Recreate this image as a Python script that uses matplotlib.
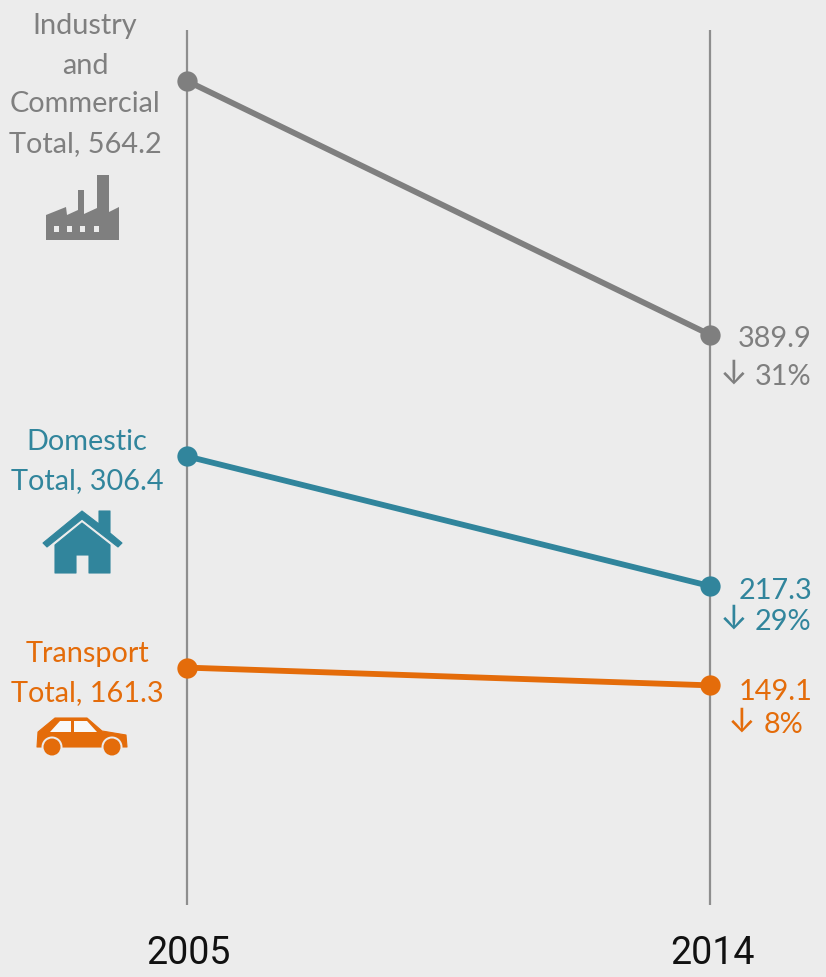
import matplotlib

matplotlib.use("Agg")
import matplotlib.pyplot as plt
from matplotlib.patches import Circle, Polygon, Rectangle

WIDTH, HEIGHT = 826, 978
BG = "#ECECEC"
GREY = "#7F7F7F"
TEAL = "#31859C"
ORANGE = "#E46C0A"
AXIS_GREY = "#8E8E8E"

years = ["2005", "2014"]
industry = [564.2, 389.9]
domestic = [306.4, 217.3]
transport = [161.3, 149.1]
series_colors = [GREY, TEAL, ORANGE]

left_labels = [
    ["Industry", "and", "Commercial", "Total, 564.2"],
    ["Domestic", "Total, 306.4"],
    ["Transport", "Total, 161.3"],
]
end_values = ["389.9", "217.3", "149.1"]
end_changes = ["31%", "29%", "8%"]

plt.rcParams["font.family"] = ["Lato", "Liberation Sans", "DejaVu Sans"]

fig = plt.figure(figsize=(WIDTH / 100, HEIGHT / 100), dpi=100, facecolor=BG)

# data axes fill the figure, limits chosen so 2005/2014 land on the two rules
ax = fig.add_axes([0, 0, 1, 1], facecolor=BG)
ax.set_xlim(-187 / 523, (WIDTH - 187) / 523)
ax.set_ylim(-51.2, 620.5)
ax.axis("off")

xs = range(len(years))
for x in xs:
    ax.plot([x, x], [-2, 599], color=AXIS_GREY, lw=1.6, zorder=1, solid_capstyle="butt")
for vals, col in zip([industry, domestic, transport], series_colors):
    ax.plot(xs, vals, color=col, lw=4.2, marker="o", ms=14.6, mew=0, zorder=3)

# overlay in image pixels for labels and icons
px = fig.add_axes([0, 0, 1, 1], facecolor="none")
px.set_xlim(0, WIDTH)
px.set_ylim(HEIGHT, 0)
px.axis("off")

FS = 20.8
left_rows = [[26, 66, 104, 144], [442, 481], [654, 693]]
left_cx = [85, 87, 87]
for lines, rows, cx, col in zip(left_labels, left_rows, left_cx, series_colors):
    for line, y in zip(lines, rows):
        px.text(cx, y, line, color=col, fontsize=FS, ha="center", va="center")

value_y = [339, 591, 692]
change_y = [377, 622, 725]
change_right = [811, 811, 803]
arrow_x = [734, 734, 742]
for i, col in enumerate(series_colors):
    px.text(812, value_y[i], end_values[i], color=col, fontsize=FS, ha="right", va="center")
    px.text(change_right[i], change_y[i], end_changes[i], color=col, fontsize=FS,
            ha="right", va="center")
    px.text(arrow_x[i], change_y[i] - 2, "↓", color=col, fontsize=24, family="Inter",
            ha="center", va="center")

for x, lab in zip([188, 713], years):
    px.text(x, 953, lab, color="#111111", fontsize=27, family="Roboto", ha="center", va="center")

# factory icon
px.add_patch(Polygon([(46, 241), (46, 216), (66, 208), (67, 216), (78, 211), (78, 191),
                      (84, 191), (84, 215), (97, 209), (97, 176), (109, 176), (109, 213),
                      (119, 208), (119, 241)], closed=True, fc=GREY, ec="none"))
for wx in [53.5, 67, 80, 93.5]:
    px.add_patch(Rectangle((wx, 227), 5, 6, fc=BG, ec="none"))

# house icon, thin round outline softens the corners
px.add_patch(Polygon([(43, 544), (82, 512), (99, 525), (99, 512), (110, 512), (110, 534),
                      (122, 544), (118, 548), (82, 520), (47, 548)], closed=True, fc=TEAL,
                     ec=TEAL, lw=0.8, joinstyle="round"))
px.add_patch(Polygon([(55, 546), (82, 524), (110, 546), (110, 574), (89, 574), (89, 556),
                      (76, 556), (76, 574), (55, 574)], closed=True, fc=TEAL,
                     ec=TEAL, lw=0.8, joinstyle="round"))

# car icon
px.add_patch(Polygon([(37, 748), (38, 733), (55, 719), (87, 719), (102, 732), (126, 736),
                      (127, 748)], closed=True, fc=ORANGE, ec=ORANGE, lw=0.8, joinstyle="round"))
px.add_patch(Polygon([(50, 733), (60, 722), (71, 722), (71, 733)], closed=True, fc="#F8F8F8", ec="none"))
px.add_patch(Polygon([(74, 722), (87, 722), (97, 733), (74, 733)], closed=True, fc="#F8F8F8", ec="none"))
for cx in [52, 112]:
    px.add_patch(Circle((cx, 748), 10.5, fc=BG, ec="none"))
    px.add_patch(Circle((cx, 748), 8.5, fc=ORANGE, ec="none"))

fig.savefig("out.png", dpi=100, facecolor=BG)
